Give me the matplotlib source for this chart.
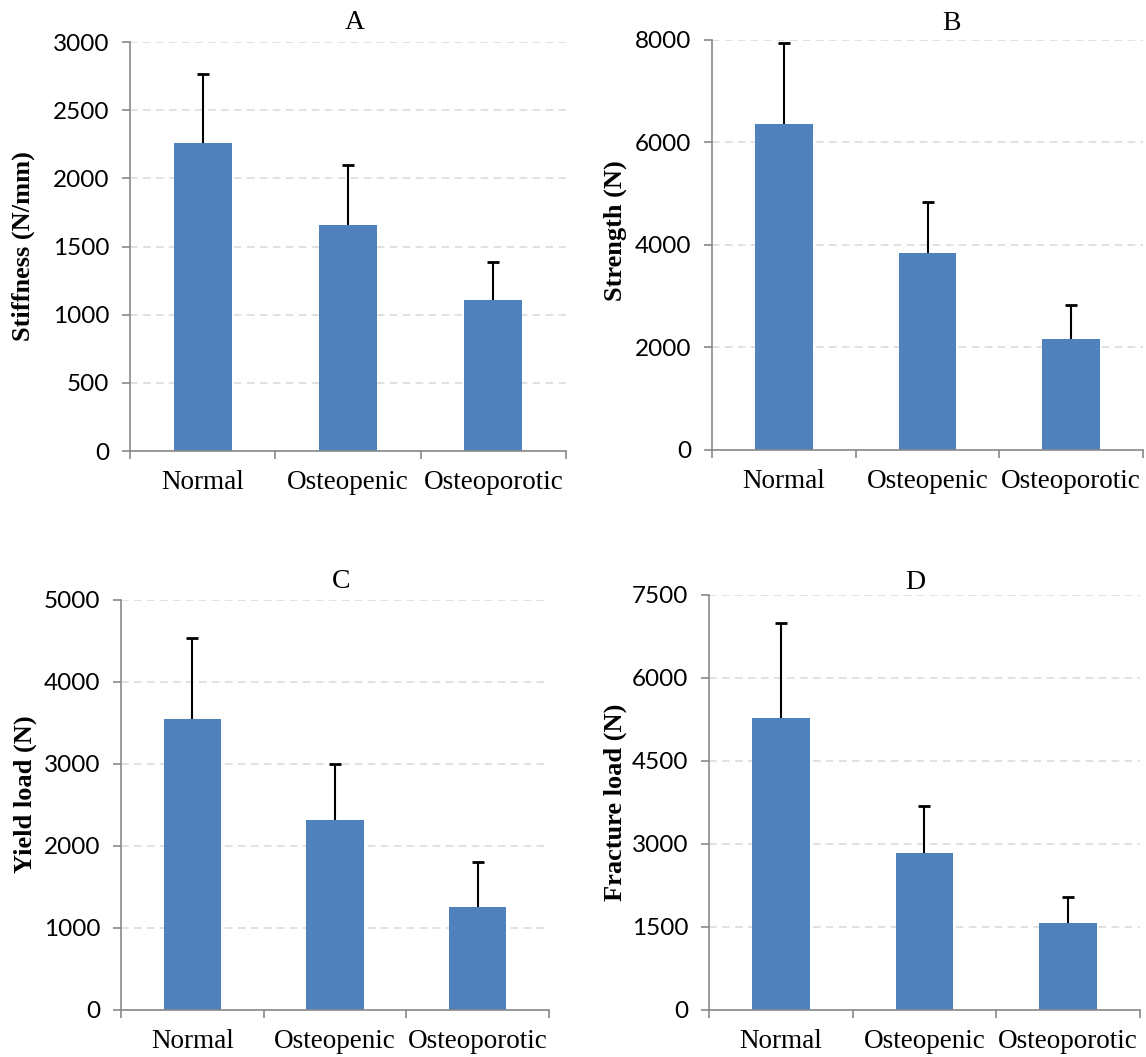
import numpy as np
import matplotlib
matplotlib.use("Agg")
import matplotlib.pyplot as plt
from matplotlib.ticker import MultipleLocator, FixedLocator

# groups
groups = ["Normal", "Osteopenic", "Osteoporotic"]

# mean values and SD (upper error only)
stiffness = [2260, 1655, 1110]
stiffness_sd = [505, 440, 280]
strength = [6360, 3840, 2170]
strength_sd = [1590, 990, 655]
yield_load = [3545, 2315, 1250]
yield_load_sd = [995, 685, 550]
fracture_load = [5280, 2830, 1570]
fracture_load_sd = [1715, 855, 470]

panel_titles = ["A", "B", "C", "D"]
y_labels = ["Stiffness (N/mm)", "Strength (N)", "Yield load (N)", "Fracture load (N)"]
y_max = [3000, 8000, 5000, 7500]
y_step = [500, 2000, 1000, 1500]

BAR_COLOR = "#4F81BD"
AXIS_COLOR = "#898989"
GRID_COLOR = "#D9D9D9"

fig = plt.figure(figsize=(11.46, 10.57), dpi=100)

# axes rectangles [left, bottom, width, height] in figure fraction
rects = [
    [0.1134, 0.5733, 0.3805, 0.3869],
    [0.6213, 0.5743, 0.3761, 0.3879],
    [0.1056, 0.0445, 0.3735, 0.3879],
    [0.6187, 0.0445, 0.3760, 0.3926],
]
# label / title placement (axes fraction)
ylabel_x = [-0.218, -0.197, -0.196, -0.190]
ylabel_y = [0.50, 0.534, 0.527, 0.50]
title_x = [0.516, 0.555, 0.514, 0.478]
title_y = [1.049, 1.041, 1.044, 1.030]

means = [stiffness, strength, yield_load, fracture_load]
sds = [stiffness_sd, strength_sd, yield_load_sd, fracture_load_sd]

x = np.arange(len(groups))

for i in range(4):
    ax = fig.add_axes(rects[i])
    ax.bar(x, means[i], width=0.4, color=BAR_COLOR, zorder=3)
    eb = ax.errorbar(x, means[i], yerr=[np.zeros(3), sds[i]], fmt="none",
                     ecolor="black", elinewidth=1.5, capsize=4, capthick=2, zorder=4)
    # hide the lower caps (sitting on bar tops)
    eb[1][0].set_visible(False)

    ax.set_xlim(-0.5, 2.5)
    ax.set_ylim(0, y_max[i])
    ax.yaxis.set_major_locator(MultipleLocator(y_step[i]))
    ax.grid(axis="y", color=GRID_COLOR, linestyle=(0, (5, 3.5)), linewidth=1.1, zorder=0)
    ax.set_axisbelow(True)

    for s in ["top", "right"]:
        ax.spines[s].set_visible(False)
    for s in ["left", "bottom"]:
        ax.spines[s].set_color(AXIS_COLOR)
        ax.spines[s].set_linewidth(1.2)
        ax.spines[s].set_zorder(5)

    ax.set_xticks(x)
    ax.set_xticklabels(groups, fontfamily="Liberation Serif", fontsize=19.5)
    ax.xaxis.set_minor_locator(FixedLocator([-0.5, 0.5, 1.5, 2.5]))
    ax.tick_params(axis="x", which="major", length=0, pad=14)
    ax.tick_params(axis="x", which="minor", length=6, width=1.2, color=AXIS_COLOR)
    ax.tick_params(axis="y", which="major", length=6, width=1.2, color=AXIS_COLOR,
                   pad=9, labelsize=17.5)
    for lab in ax.get_yticklabels():
        lab.set_fontfamily("Lato")

    ax.set_ylabel(y_labels[i], fontfamily="Liberation Serif", fontweight="bold", fontsize=19)
    ax.yaxis.set_label_coords(ylabel_x[i], ylabel_y[i])
    ax.text(title_x[i], title_y[i], panel_titles[i], transform=ax.transAxes,
            ha="center", va="center", fontfamily="Liberation Serif", fontsize=20)

fig.savefig("out.png", dpi=100)
